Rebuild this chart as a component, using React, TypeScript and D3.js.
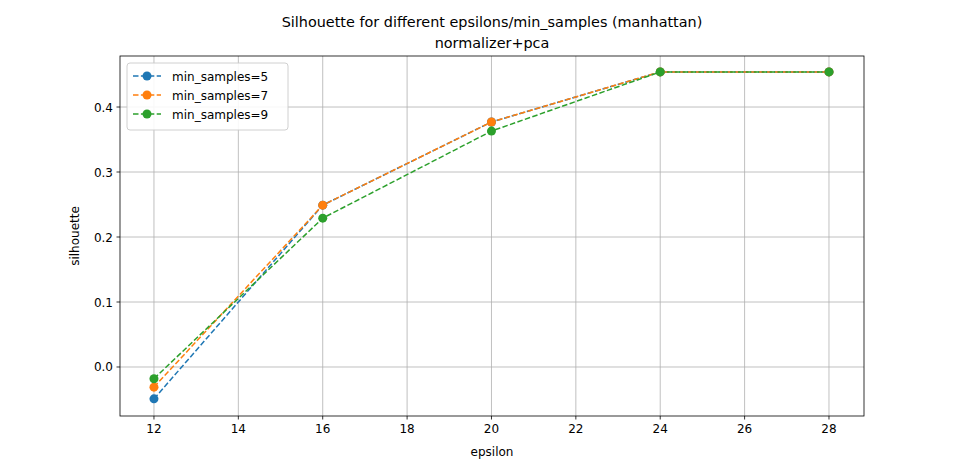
import React from "react";
import * as d3 from "d3";

const epsilons = [12, 16, 20, 24, 28];
const s5 = [-0.049, 0.249, 0.377, 0.454, 0.454];
const s7 = [-0.031, 0.249, 0.377, 0.454, 0.454];
const s9 = [-0.018, 0.229, 0.363, 0.454, 0.454];
const seriesNames = ["min_samples=5", "min_samples=7", "min_samples=9"];
const colors = ["#1f77b4", "#ff7f0e", "#2ca02c"];
const xTicks = [12, 14, 16, 18, 20, 22, 24, 26, 28];
const yTicks = [0.0, 0.1, 0.2, 0.3, 0.4];

export default function App() {
  const L = 120, R = 864, T = 56, B = 416;
  const x = d3.scaleLinear().domain([11.195, 28.83]).range([L, R]);
  const y = d3.scaleLinear().domain([-0.0754, 0.4785]).range([B, T]);
  const line = d3.line<number>().x((_, i) => x(epsilons[i])).y((d) => y(d));
  const all = [s5, s7, s9];
  const font = "DejaVu Sans";
  return (
    <svg width={960} height={467} style={{ position: "absolute", left: 0, top: 0 }} fontFamily={font}>
      <rect width={960} height={467} fill="white" />
      {xTicks.map((t) => (
        <g key={"x" + t}>
          <line x1={x(t)} x2={x(t)} y1={T} y2={B} stroke="#b0b0b0" strokeWidth={0.8} />
          <line x1={x(t)} x2={x(t)} y1={B} y2={B + 3.5} stroke="black" strokeWidth={0.8} />
          <text x={x(t)} y={B + 17} fontSize={12} textAnchor="middle">{t}</text>
        </g>
      ))}
      {yTicks.map((t) => (
        <g key={"y" + t}>
          <line x1={L} x2={R} y1={y(t)} y2={y(t)} stroke="#b0b0b0" strokeWidth={0.8} />
          <line x1={L - 3.5} x2={L} y1={y(t)} y2={y(t)} stroke="black" strokeWidth={0.8} />
          <text x={L - 7} y={y(t) + 4.5} fontSize={12} textAnchor="end">{t.toFixed(1)}</text>
        </g>
      ))}
      {all.map((s, k) => (
        <g key={k}>
          <path d={line(s) || ""} fill="none" stroke={colors[k]} strokeWidth={1.5} strokeDasharray="5.5,2.4" />
          {s.map((v, i) => (
            <circle key={i} cx={x(epsilons[i])} cy={y(v)} r={4.5} fill={colors[k]} />
          ))}
        </g>
      ))}
      <rect x={L} y={T} width={R - L} height={B - T} fill="none" stroke="black" strokeWidth={0.8} />
      <text x={492} y={27} fontSize={14.4} textAnchor="middle">Silhouette for different epsilons/min_samples (manhattan)</text>
      <text x={492} y={48} fontSize={14.4} textAnchor="middle">normalizer+pca</text>
      <text x={492} y={456} fontSize={12} textAnchor="middle">epsilon</text>
      <text transform={`translate(79,${(T + B) / 2}) rotate(-90)`} fontSize={12} textAnchor="middle">silhouette</text>
      <rect x={127} y={63} width={161} height={67} fill="white" stroke="#cccccc" rx={3} opacity={0.9} />
      {seriesNames.map((n, k) => (
        <g key={n}>
          <line x1={133} x2={161} y1={76 + k * 19} y2={76 + k * 19} stroke={colors[k]} strokeWidth={1.5} strokeDasharray="5.5,2.4" />
          <circle cx={147} cy={76 + k * 19} r={4.5} fill={colors[k]} />
          <text x={172} y={80.5 + k * 19} fontSize={12}>{n}</text>
        </g>
      ))}
    </svg>
  );
}
